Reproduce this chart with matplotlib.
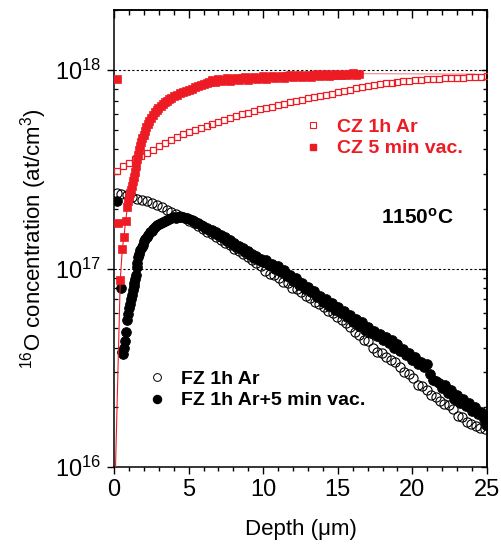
import matplotlib

matplotlib.use("Agg")
import matplotlib.pyplot as plt  # noqa: E402
from matplotlib.lines import Line2D  # noqa: E402
from matplotlib.ticker import LogLocator, MultipleLocator, NullFormatter  # noqa: E402

plt.rcParams["font.family"] = ["Liberation Sans", "DejaVu Sans"]
plt.rcParams["mathtext.fontset"] = "custom"
plt.rcParams["mathtext.rm"] = "Liberation Sans"
plt.rcParams["mathtext.bf"] = "Liberation Sans:bold"
plt.rcParams["mathtext.it"] = "Liberation Sans:italic"

RED = "#ED1C24"
UNIT = 1e16  # all concentrations below are in 1e16 at/cm3

# CZ 1h Ar (open red squares)
cz_ar_x = [0.2, 0.6, 1.0, 1.4, 1.8, 2.2, 2.6, 3.0, 3.4, 3.8, 4.2, 4.6, 5.0,
           5.4, 5.8, 6.2, 6.6, 7.0, 7.4, 7.8, 8.2, 8.6, 9.0, 9.4, 9.8, 10.2,
           10.6, 11.0, 11.4, 11.8, 12.2, 12.6, 13.0, 13.4, 13.8, 14.2, 14.6,
           15.0, 15.4, 15.8, 16.2, 16.6, 17.0, 17.4, 17.8, 18.2, 18.6, 19.0,
           19.4, 19.8, 20.2, 20.6, 21.0, 21.4, 21.8, 22.2, 22.6, 23.0, 23.4,
           23.8, 24.2, 24.6, 25.0]
cz_ar = [31.0, 32.8, 34.0, 35.5, 36.8, 38.2, 39.8, 41.5, 43.0, 44.5, 46.0,
         47.5, 48.8, 50.0, 51.2, 52.5, 53.8, 55.0, 56.0, 57.2, 58.5, 59.8,
         61.0, 62.2, 63.5, 64.5, 65.5, 66.5, 67.8, 68.8, 70.0, 71.0, 72.0,
         73.0, 74.2, 75.2, 76.2, 77.5, 78.5, 79.8, 81.0, 82.0, 83.0, 84.0,
         85.0, 85.8, 86.6, 87.4, 88.0, 88.5, 89.0, 89.4, 89.8, 90.2, 90.6,
         90.8, 91.2, 91.5, 91.8, 92.1, 92.4, 92.7, 93.0]

# CZ 5 min vac. (filled red squares); first point lies below the axis
cz_vac_x = [0.0, 0.42, 0.56, 0.67, 0.78, 0.90, 0.96, 1.02, 1.08, 1.14, 1.20,
            1.26, 1.32, 1.38, 1.45, 1.52, 1.59, 1.66, 1.74, 1.82, 1.90, 1.98,
            2.07, 2.16, 2.26, 2.36, 2.48, 2.60, 2.72, 2.85, 2.98, 3.12, 3.26,
            3.40, 3.55, 3.70, 3.85, 4.00, 4.20, 4.40, 4.60, 4.80, 5.00, 5.20,
            5.40, 5.60, 5.80, 6.00, 6.20, 6.4, 6.6, 6.8, 7.0, 7.2, 7.4, 7.6,
            7.8, 8.0, 8.2, 8.4, 8.6, 8.8, 9.0, 9.2, 9.4, 9.6, 9.8, 10.0, 10.2,
            10.4, 10.6, 10.8, 11.0, 11.2, 11.4, 11.6, 11.8, 12.0, 12.2, 12.4,
            12.6, 12.8, 13.0, 13.2, 13.4, 13.6, 13.8, 14.0, 14.2, 14.4, 14.6,
            14.8, 15.0, 15.2, 15.4, 15.6, 15.8, 16.0, 16.2, 16.4]
cz_vac = [0.5, 8.8, 12.6, 14.5, 17.4, 20.5, 22.0, 23.0, 24.0, 25.0, 26.2,
          27.6, 29.0, 30.8, 33.0, 35.5, 37.5, 39.5, 41.5, 43.5, 45.5, 47.3,
          49.3, 51.5, 53.5, 55.5, 57.5, 59.5, 61.3, 63.0, 64.5, 66.0, 67.5,
          69.0, 70.3, 71.5, 72.8, 73.8, 75.0, 76.3, 77.5, 78.5, 79.5, 80.8,
          82.0, 83.0, 84.2, 85.5, 86.5, 87.5, 89.0, 87.0, 90.0, 88.2, 89.5,
          91.0, 88.0, 90.2, 91.8, 89.0, 90.8, 92.2, 89.6, 91.4, 92.8, 90.0,
          91.6, 93.0, 90.4, 92.0, 93.4, 91.0, 92.6, 93.8, 91.4, 93.0, 94.2,
          92.0, 93.4, 94.6, 92.4, 93.8, 95.0, 92.8, 94.0, 95.2, 93.2, 94.4,
          95.6, 93.6, 94.7, 95.8, 94.0, 95.0, 96.0, 94.4, 95.3, 96.2, 94.8,
          95.6]
cz_vac_surf_x = [0.18, 0.29]
cz_vac_surf = [90.0, 17.0]
cz_vac_tail_x = [16.4, 24.2]
cz_vac_tail = [96.0, 95.5]

# FZ 1h Ar (open black circles)
fz_ar_x = [0.18, 0.50, 0.85, 1.19, 1.52, 1.86, 2.19, 2.53, 2.86, 3.20, 3.53,
           3.85, 4.15, 4.45, 4.75, 5.05, 5.35, 5.65, 5.95, 6.25, 6.55, 6.85,
           7.15, 7.45, 7.75, 8.05, 8.35, 8.65, 8.95, 9.25, 9.55, 9.85, 10.15,
           10.45, 10.75, 11.05, 11.35, 11.65, 11.95, 12.25, 12.55, 12.85,
           13.15, 13.45, 13.75, 14.05, 14.35, 14.65, 14.95, 15.25, 15.55,
           15.85, 16.15, 16.45, 16.75, 17.05, 17.35, 17.65, 17.95, 18.25,
           18.55, 18.85, 19.15, 19.45, 19.75, 20.05, 20.35, 20.65, 20.95,
           21.25, 21.55, 21.85, 22.15, 22.45, 22.75, 23.05, 23.35, 23.65,
           23.95, 24.25, 24.55, 24.85]
fz_ar = [24.1, 23.8, 23.4, 22.9, 22.5, 22.2, 21.8, 21.4, 21.0, 20.4, 19.8,
         19.2, 18.8, 18.5, 18.0, 17.4, 16.9, 16.4, 15.8, 15.3, 14.9, 14.4,
         14.0, 13.5, 13.1, 12.6, 12.3, 11.9, 11.4, 11.0, 10.7, 10.3, 9.7, 9.4,
         9.3, 9.0, 8.6, 8.5, 8.0, 7.9, 7.6, 7.3, 7.1, 6.8, 6.6, 6.4, 6.1, 5.95,
         5.7, 5.5, 5.3, 5.05, 4.8, 4.6, 4.35, 4.3, 4.0, 3.8, 3.75, 3.6, 3.45,
         3.4, 3.2, 3.0, 2.95, 2.8, 2.6, 2.55, 2.45, 2.3, 2.25, 2.15, 2.08,
         2.05, 1.95, 1.8, 1.78, 1.68, 1.64, 1.6, 1.58, 1.55]

# FZ 1h Ar+5 min vac. (filled black circles)
fz_vac_x = [0.22, 0.45, 0.55, 0.60, 0.67, 0.72, 0.80, 0.87, 0.94, 1.00, 1.07,
            1.14, 1.20, 1.25, 1.31, 1.36, 1.42, 1.47, 1.52, 1.57, 1.63, 1.70,
            1.77, 1.85, 1.93, 2.02, 2.11, 2.20, 2.30, 2.41, 2.52, 2.63, 2.75,
            2.87, 3.00, 3.13, 3.26, 3.40, 3.55, 3.70, 3.85, 4.00, 4.15, 4.30,
            4.45, 4.60, 4.75, 4.90, 5.05, 5.20, 5.35, 5.50, 5.65, 5.80, 5.95,
            6.10, 6.25, 6.40, 6.55, 6.70, 6.85, 7.00, 7.15, 7.30, 7.45, 7.60,
            7.75, 7.90, 8.05, 8.20, 8.35, 8.50, 8.65, 8.80, 8.95, 9.10, 9.25,
            9.40, 9.55, 9.70, 9.85, 10.00, 10.20, 10.40, 10.60, 10.80, 11.00,
            11.20, 11.40, 11.60, 11.80, 12.00, 12.20, 12.40, 12.60, 12.80,
            13.00, 13.20, 13.40, 13.60, 13.80, 14.00, 14.20, 14.40, 14.60,
            14.80, 15.00, 15.20, 15.40, 15.60, 15.80, 16.00, 16.20, 16.40,
            16.60, 16.80, 17.00, 17.20, 17.40, 17.60, 17.80, 18.00, 18.20,
            18.40, 18.60, 18.80, 19.00, 19.20, 19.40, 19.60, 19.80, 20.00,
            20.20, 20.40, 20.60, 20.80, 21.00, 21.20, 21.40, 21.60, 21.80,
            22.00, 22.20, 22.40, 22.60, 22.80, 23.00, 23.20, 23.40, 23.60,
            23.80, 24.00, 24.20, 24.40, 24.60, 24.80, 24.95, 24.95]
fz_vac = [22.0, 8.0, 3.8, 3.7, 4.0, 4.3, 4.8, 5.5, 5.9, 6.3, 6.6, 7.0, 7.4,
          7.8, 8.2, 8.5, 8.9, 9.3, 10.2, 10.7, 11.4, 11.9, 12.4, 12.8, 13.2,
          13.7, 14.1, 14.4, 14.8, 15.2, 15.5, 15.9, 16.2, 16.5, 16.7, 16.9,
          17.1, 17.4, 17.6, 17.7, 17.9, 18.1, 18.0, 18.3, 18.1, 18.2, 17.9,
          18.0, 17.7, 17.5, 17.4, 17.0, 16.9, 16.5, 16.4, 16.0, 16.1, 15.6,
          15.6, 15.1, 15.2, 14.7, 14.7, 14.2, 14.4, 13.8, 13.9, 13.3, 13.5,
          12.9, 13.0, 12.5, 12.7, 12.1, 12.3, 11.7, 11.9, 11.3, 11.6, 11.0,
          11.2, 10.8, 11.0, 10.4, 10.6, 10.0, 10.3, 9.6, 9.8, 9.2, 9.3, 8.7,
          9.0, 8.3, 8.5, 7.9, 8.1, 7.6, 7.7, 7.2, 7.3, 6.8, 7.0, 6.5, 6.7, 6.2,
          6.4, 5.95, 6.1, 5.7, 5.85, 5.4, 5.6, 5.15, 5.35, 4.9, 5.05, 4.75,
          4.85, 4.55, 4.7, 4.35, 4.5, 4.2, 4.35, 4.0, 4.15, 3.85, 3.95, 3.65,
          3.75, 3.45, 3.6, 3.3, 3.4, 3.2, 3.3, 2.95, 2.75, 2.7, 2.65, 2.5, 2.6,
          2.35, 2.45, 2.2, 2.3, 2.1, 2.2, 2.02, 2.1, 1.92, 2.0, 1.85, 1.9,
          1.75, 1.62, 1.80]

x_major = [0, 5, 10, 15, 20, 25]
grid_levels = [1e17, 1e18]

fig = plt.figure(figsize=(5.01, 5.47), dpi=100)
ax = fig.add_axes([114 / 501, 1 - 467 / 547, 373 / 501, 457 / 547])


def scaled(vals):
    return [v * UNIT for v in vals]


for lvl in grid_levels:
    ax.axhline(lvl, color="black", lw=0.8, ls=(0, (2.0, 2.0)), zorder=1)

ax.plot(fz_ar_x, scaled(fz_ar), ls="none", marker="o", ms=6.6, mfc="none",
        mec="black", mew=0.8, zorder=3)
ax.plot(fz_vac_x, scaled(fz_vac), ls="none", marker="o", ms=7.0, mfc="black",
        mec="black", mew=0.6, zorder=4)
ax.plot(cz_ar_x, scaled(cz_ar), ls="none", marker="s", ms=5.0, mfc="none",
        mec=RED, mew=0.9, zorder=5)
ax.plot(cz_vac_tail_x, scaled(cz_vac_tail), color=RED, lw=0.7, alpha=0.6,
        zorder=5)
ax.plot(cz_vac_x, scaled(cz_vac), color=RED, lw=0.8, marker="s", ms=6.4,
        mfc=RED, mec=RED, mew=0.5, zorder=6)
ax.plot(cz_vac_surf_x, scaled(cz_vac_surf), ls="none", marker="s", ms=6.0,
        mfc=RED, mec=RED, mew=0.5, zorder=6)

ax.set_yscale("log")
ax.set_xlim(0, 25)
ax.set_ylim(1e16, 2.01e18)
ax.set_xticks(x_major)
ax.xaxis.set_minor_locator(MultipleLocator(1))
ax.yaxis.set_major_locator(LogLocator(base=10))
ax.yaxis.set_minor_locator(LogLocator(base=10, subs=range(2, 10)))
ax.yaxis.set_minor_formatter(NullFormatter())

for sp in ax.spines.values():
    sp.set_linewidth(1.1)

ax.tick_params(axis="x", which="both", direction="out", top=False,
               labelsize=17, width=1.0, pad=4)
ax.tick_params(axis="x", which="major", length=5)
ax.tick_params(axis="x", which="minor", length=3.2)
ax.tick_params(axis="y", which="major", direction="out", length=5,
               width=1.0, labelsize=17, pad=4, right=False)
ax.tick_params(axis="y", which="minor", direction="in", length=3,
               width=0.9, right=False)

top = ax.secondary_xaxis("top")
top.xaxis.set_major_locator(MultipleLocator(5))
top.xaxis.set_minor_locator(MultipleLocator(1))
top.xaxis.set_major_formatter(NullFormatter())
top.tick_params(which="both", direction="in", width=1.0)
top.tick_params(which="major", length=5.5)
top.tick_params(which="minor", length=3.5)
top.spines["top"].set_linewidth(1.1)

right = ax.secondary_yaxis("right")
right.yaxis.set_major_locator(LogLocator(base=10))
right.yaxis.set_minor_locator(LogLocator(base=10, subs=range(2, 10)))
right.yaxis.set_major_formatter(NullFormatter())
right.yaxis.set_minor_formatter(NullFormatter())
right.tick_params(which="both", direction="in", width=1.0)
right.tick_params(which="major", length=4.5)
right.tick_params(which="minor", length=3)
right.spines["right"].set_linewidth(1.1)

ax.set_xlabel("Depth (μm)", fontsize=16)
ax.set_ylabel(r"$^{16}$O concentration (at/cm$^{3}$)", fontsize=16)
ax.xaxis.set_label_coords(0.5, -0.113)
ax.yaxis.set_label_coords(-0.175, 0.5)

ax.text(0.715, 0.545, r"1150$^{\mathbf{o}}$C", transform=ax.transAxes,
        fontsize=15, fontweight="bold", ha="left", va="center")

cz_handles = [
    Line2D([], [], ls="none", marker="s", ms=4.3, mfc="none", mec=RED,
           mew=0.8, label="CZ 1h Ar"),
    Line2D([], [], ls="none", marker="s", ms=5.0, mfc=RED, mec=RED,
           label="CZ 5 min vac."),
]
fz_handles = [
    Line2D([], [], ls="none", marker="o", ms=5.6, mfc="none", mec="black",
           mew=0.7, label="FZ 1h Ar"),
    Line2D([], [], ls="none", marker="o", ms=5.8, mfc="black", mec="black",
           label="FZ 1h Ar+5 min vac."),
]
leg_kw = dict(frameon=False, loc="center left", handlelength=0.8,
              handletextpad=0.83, labelspacing=0.18, borderpad=0,
              borderaxespad=0, prop={"size": 14, "weight": "bold"})
fig.legend(handles=cz_handles, bbox_to_anchor=(305 / 501, 1 - 138 / 547),
           labelcolor=RED, **leg_kw)
fig.legend(handles=fz_handles, bbox_to_anchor=(149 / 501, 1 - 390 / 547),
           labelcolor="black", **leg_kw)

fig.savefig("out.png", dpi=100)
